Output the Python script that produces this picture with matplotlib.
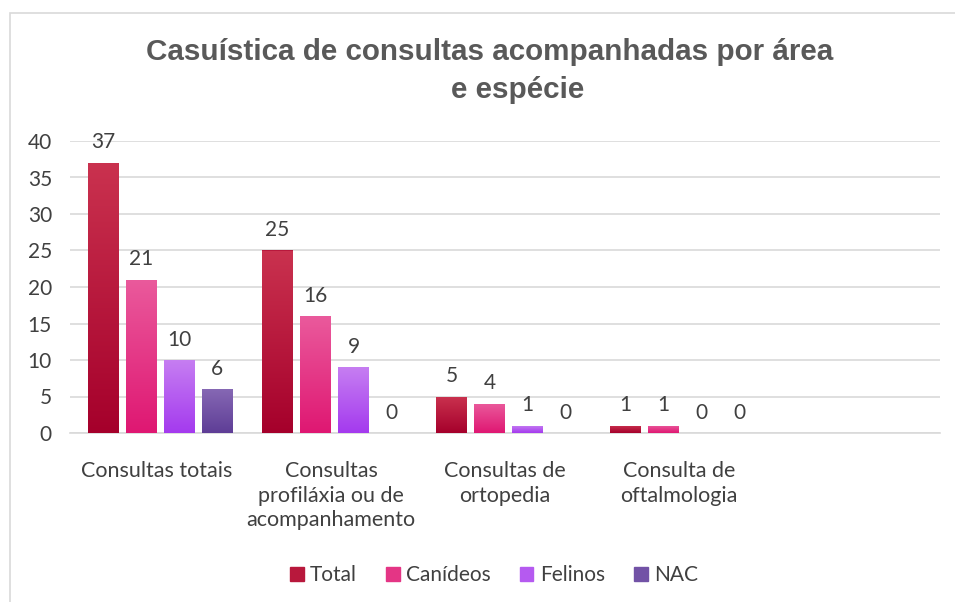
import matplotlib
matplotlib.use("Agg")
import matplotlib.pyplot as plt
import numpy as np
from matplotlib.patches import Rectangle
from matplotlib.colors import LinearSegmentedColormap

categories = ["Consultas totais", "Consultas\nprofiláxia ou de\nacompanhamento",
              "Consultas de\nortopedia", "Consulta de\noftalmologia"]
series_names = ["Total", "Canídeos", "Felinos", "NAC"]
total = [37, 25, 5, 1]
canideos = [21, 16, 4, 1]
felinos = [10, 9, 1, 0]
nac = [6, 0, 0, 0]
series = [total, canideos, felinos, nac]
yticks = [0, 5, 10, 15, 20, 25, 30, 35, 40]

tops = ["#CA324F", "#EA5A9C", "#C67EF2", "#8668B4"]
bottoms = ["#A5002B", "#DF1772", "#A43AEE", "#5E3D96"]
mids = ["#B8183C", "#E43585", "#B55AF0", "#7252A6"]

W, H = 955, 602
fig = plt.figure(figsize=(W / 100, H / 100), dpi=100)
fig.patch.set_facecolor("white")
fig.patches.append(Rectangle((10 / W, -0.1), 1.2, 1.1 - 13 / H, transform=fig.transFigure,
                             fill=False, edgecolor="#D9D9D9", linewidth=1.2, zorder=0))

ax = fig.add_axes([70 / W, (H - 433) / H, 870 / W, (433 - 141) / H])
ax.set_facecolor("none")

font = "Lato"
txtc = "#404040"
n_slots = 5
step = 0.218
bw = 0.178
offsets = (np.arange(4) - 1.5) * step + 0.02

for i, vals in enumerate(series):
    xs = np.arange(len(vals)) + offsets[i]
    bars = ax.bar(xs, vals, width=bw, color=mids[i], zorder=3, label=series_names[i], linewidth=0)
    cmap = LinearSegmentedColormap.from_list("g%d" % i, [bottoms[i], tops[i]])
    grad = np.linspace(0, 1, 256).reshape(-1, 1)
    for b, v in zip(bars, vals):
        if v > 0:
            im = ax.imshow(grad, cmap=cmap, aspect="auto", origin="lower",
                           extent=(b.get_x(), b.get_x() + b.get_width(), 0, v), zorder=4)
            im.set_clip_path(b)
        ax.annotate(str(v), (b.get_x() + b.get_width() / 2, v), xytext=(0, 7.5),
                    textcoords="offset points", ha="center", va="bottom",
                    fontsize=15, color=txtc, family=font, zorder=5)

ax.set_xlim(-0.5, n_slots - 0.5)
ax.set_ylim(0, 40)
ax.set_yticks(yticks)
ax.set_yticklabels([str(t) for t in yticks], family=font, fontsize=15, color=txtc)
ax.set_xticks(np.arange(len(categories)))
ax.set_xticklabels(categories, family=font, fontsize=15.5, color=txtc, linespacing=1.3, va="top")
ax.tick_params(axis="both", length=0)
ax.tick_params(axis="y", pad=13)
ax.tick_params(axis="x", pad=20)
ax.grid(axis="y", color="#D9D9D9", linewidth=1.2, zorder=0)
ax.set_axisbelow(True)
for s in ["top", "right", "left"]:
    ax.spines[s].set_visible(False)
ax.spines["bottom"].set_color("#D9D9D9")
ax.spines["bottom"].set_linewidth(1.2)

handles = [Rectangle((0, 0), 1, 1, color=c) for c in mids]
leg = fig.legend(handles, series_names, loc="center", bbox_to_anchor=(494 / W, (H - 575) / H),
                 ncol=4, frameon=False, prop={"family": font, "size": 15},
                 handlelength=0.65, handleheight=0.65, handletextpad=0.3, columnspacing=1.4)
for t in leg.get_texts():
    t.set_color(txtc)

fig.text(490 / W, (H - 52) / H, "Casuística de consultas acompanhadas por área",
         ha="center", va="center", fontsize=21.3, fontweight="bold",
         family="Liberation Sans", color="#595959")
fig.text(518 / W, (H - 90) / H, "e espécie",
         ha="center", va="center", fontsize=21.3, fontweight="bold",
         family="Liberation Sans", color="#595959")

fig.savefig("out.png", dpi=100, facecolor="white")
